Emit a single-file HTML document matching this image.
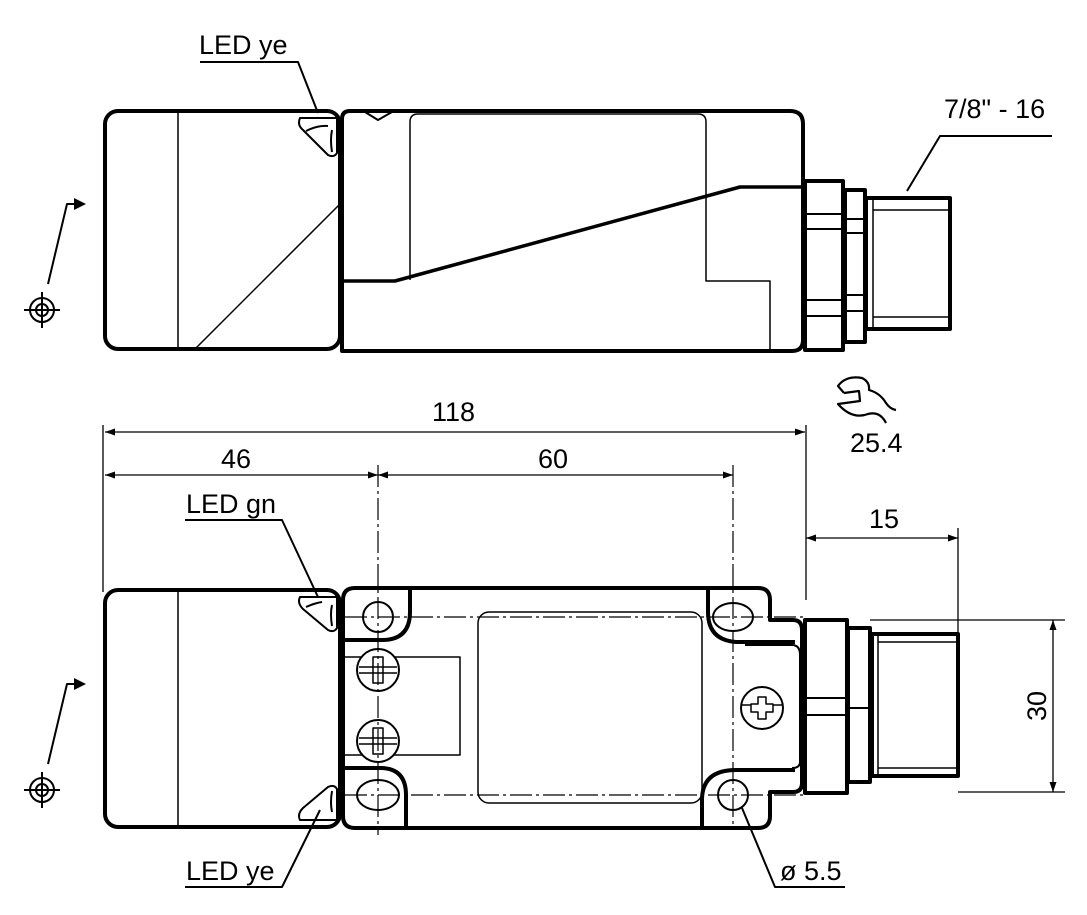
<!DOCTYPE html>
<html><head><style>body{margin:0;background:#fff}svg{display:block}text{font-family:"Liberation Sans",Arial,sans-serif;font-size:27px;fill:#000}</style></head>
<body>
<svg width="1087" height="915" viewBox="0 0 1087 915" xmlns="http://www.w3.org/2000/svg">
<defs><marker id="a" viewBox="0 0 10 10" refX="10" refY="5" markerWidth="14" markerHeight="10" markerUnits="userSpaceOnUse" orient="auto-start-reverse"><path d="M0,1.5 L10,5 L0,8.5z" fill="#000"/></marker></defs>
<g fill="none" stroke="#000" stroke-linejoin="round">
<!-- TOP VIEW -->
<rect x="105" y="111" width="235" height="238" rx="13" stroke-width="4"/>
<line x1="178" y1="111" x2="178" y2="349" stroke-width="1.5"/>
<line x1="195" y1="349" x2="340" y2="204" stroke-width="1.5"/>
<path d="M300,118 Q297,125 303,130 L328,155 Q334,158 337,153 V118 Z" stroke-width="2"/>
<path d="M306,131 Q318,125 328,126 M332,130 Q330,140 332,152" stroke-width="2"/>
<path d="M350,111 H790 Q803,111 803,124 V340 Q803,351 792,351 H342 V119 Q342,111 350,111 Z" stroke-width="4"/>
<path d="M365,112 L378,120 L392,112" stroke-width="2"/>
<path d="M410,280 V122 Q410,114 418,114 H698 Q706,114 706,122 V281 H770 V350" stroke-width="1.5"/>
<path d="M342,281 H395 L740,187 H802" stroke-width="3.5"/>
<rect x="805" y="181" width="38" height="169" stroke-width="4" fill="#fff"/>
<path d="M805,214 H843 M805,229 H843 M805,300 H843 M805,316 H843" stroke-width="2"/>
<rect x="845" y="190" width="20" height="152" stroke-width="4"/>
<path d="M845,219 H865 M845,233 H865 M845,295 H865 M845,311 H865" stroke-width="2"/>
<rect x="866" y="198" width="84" height="131" stroke-width="4"/>
<path d="M873,200 V327 M873,210 H948 M873,317 H948" stroke-width="1.5"/>
<path d="M907,191 L940,136 H1052" stroke-width="2"/>
<path d="M200,62 H298 L318,113" stroke-width="2"/>
<!-- BOTTOM VIEW -->
<rect x="105" y="590" width="235" height="237" rx="13" stroke-width="4"/>
<line x1="178" y1="590" x2="178" y2="827" stroke-width="1.5"/>
<path d="M300,597 Q297,603 303,609 L328,630 Q334,633 337,628 V597 Z" stroke-width="2"/>
<path d="M332,605 Q330,614 332,626 M306,607 Q315,603 322,602" stroke-width="2"/>
<path d="M300,820 Q297,814 303,808 L328,787 Q334,784 337,789 V820 Z" stroke-width="2"/>
<path d="M332,812 Q330,803 332,791" stroke-width="2"/>
<path d="M355,588 H758 Q770,588 770,600 V620 H793 Q802,620 802,630 V783 Q802,792 793,792 H770 V816 Q770,828 758,828 H355 Q343,828 343,816 V600 Q343,588 355,588 Z" stroke-width="4"/>
<path d="M410,590 V612 Q410,640 382,640 H345" stroke-width="4"/>
<path d="M345,768 H380 Q406,768 406,795 V826" stroke-width="4"/>
<path d="M708,590 V612 Q708,640 736,642 H795" stroke-width="4"/>
<path d="M702,826 V800 Q702,770 736,770 H795" stroke-width="4"/>
<path d="M745,645 H792 Q800,645 800,655 V762 Q800,768 792,768" stroke-width="2"/>
<rect x="478" y="612" width="224" height="191" rx="11" stroke-width="1.5"/>
<path d="M345,657 H460 V755 H345" stroke-width="1.5"/>
<circle cx="378" cy="617" r="15" stroke-width="2"/>
<ellipse cx="733" cy="617" rx="20" ry="14" stroke-width="2"/>
<ellipse cx="378" cy="795" rx="21" ry="15" stroke-width="2"/>
<circle cx="733" cy="795" r="15" stroke-width="2"/>
<g stroke-width="2"><circle cx="378" cy="670" r="21" fill="#fff"/><circle cx="378" cy="741" r="21" fill="#fff"/><circle cx="762" cy="708" r="21"/></g>
<g stroke-width="1.5">
<path d="M373,657 h10 v26 h-10z M359,667 h38 M359,673 h38"/>
<path d="M373,728 h10 v26 h-10z M359,738 h38 M359,744 h38"/>
<path d="M758,697 h8 v7 h7 v8 h-7 v7 h-8 v-7 h-7 v-8 h7z M742,705 h9 M773,705 h9"/>
</g>
<g stroke-width="1.2" stroke-dasharray="22,4,3,4">
<path d="M345,617 H805 M345,795 H805"/>
<path d="M378,465 V835 M733,465 V830"/>
</g>
<rect x="805" y="620" width="42" height="173" stroke-width="4" fill="#fff"/>
<path d="M805,698 H847 M805,715 H847" stroke-width="2"/>
<rect x="848" y="628" width="22" height="154" stroke-width="4"/>
<path d="M848,708 H870" stroke-width="2"/>
<rect x="872" y="634" width="86" height="142" stroke-width="4"/>
<path d="M878,636 V774 M878,642 H956 M878,768 H956" stroke-width="1.5"/>
<!-- dimensions -->
<g stroke-width="1.3">
<path d="M103,425 V592 M806,425 V600 M958,528 V633 M870,620 H1065 M958,792 H1065"/>
<line x1="105" y1="432" x2="805" y2="432" marker-start="url(#a)" marker-end="url(#a)"/>
<line x1="105" y1="475" x2="378" y2="475" marker-start="url(#a)" marker-end="url(#a)"/>
<line x1="378" y1="475" x2="733" y2="475" marker-start="url(#a)" marker-end="url(#a)"/>
<line x1="806" y1="538" x2="958" y2="538" marker-start="url(#a)" marker-end="url(#a)"/>
<line x1="1053" y1="620" x2="1053" y2="792" marker-start="url(#a)" marker-end="url(#a)"/>
</g>
<path d="M185,520 H282 L318,597" stroke-width="2"/>
<path d="M185,887 H282 L320,810" stroke-width="2"/>
<path d="M845,887 H775 L742,808" stroke-width="2"/>
<!-- wrench -->
<path d="M844,393 L838,386 Q846,375 862,378 Q870,382 869,390 Q880,393 886,403 Q890,409 896,410 M844,393 L859,391 L860,401 L838,404 Q852,420 868,414 Q880,411 886,423" stroke-width="2.2"/>
<!-- crosshairs -->
<g stroke-width="2">
<circle cx="42" cy="310" r="12"/><circle cx="42" cy="310" r="6"/><path d="M24,310 H60 M42,292 V328"/>
<circle cx="42" cy="790" r="12"/><circle cx="42" cy="790" r="6"/><path d="M24,790 H60 M42,772 V808"/>
<path d="M48,284 L67,204 H76"/><path d="M48,764 L67,684 H76"/>
</g>
</g>
<path d="M74,198 L86,204 L74,210z M74,678 L86,684 L74,690z"/>
<text x="199" y="54">LED ye</text>
<text x="944" y="118">7/8" - 16</text>
<text x="432" y="421">118</text>
<text x="221" y="468">46</text>
<text x="538" y="468">60</text>
<text x="850" y="452">25.4</text>
<text x="869" y="528">15</text>
<text x="186" y="513">LED gn</text>
<text x="186" y="880">LED ye</text>
<text x="780" y="880">ø 5.5</text>
<text transform="translate(1046,706) rotate(-90)" text-anchor="middle">30</text>
</svg>
</body></html>
